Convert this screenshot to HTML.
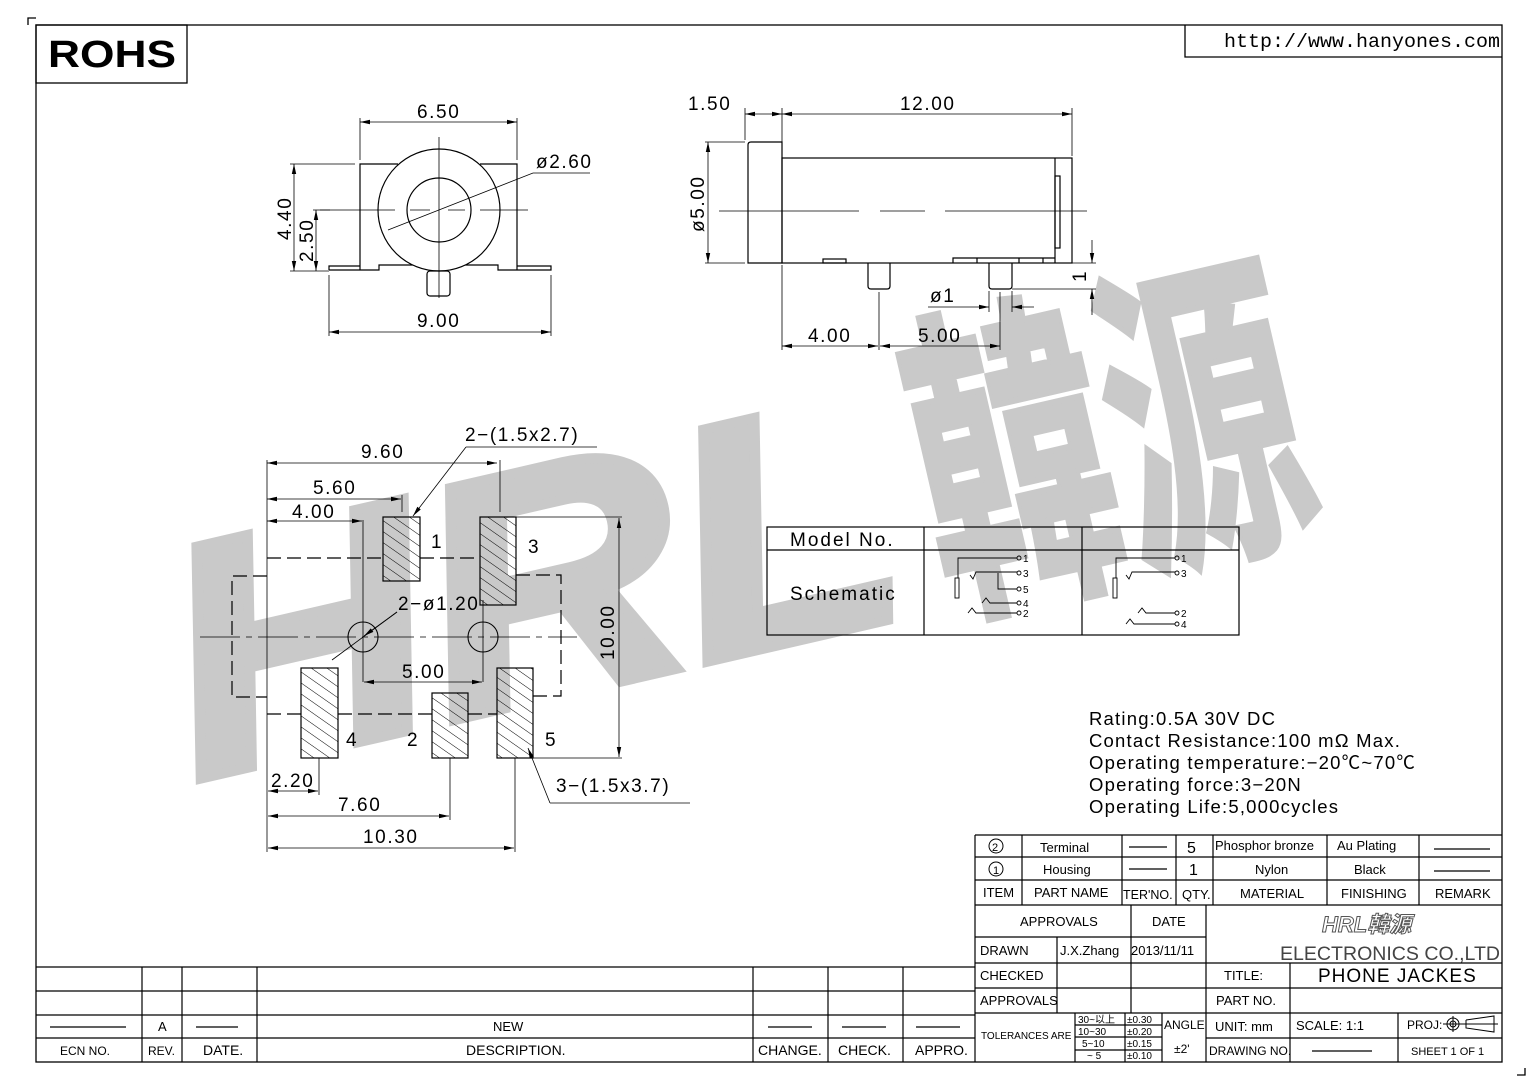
<!DOCTYPE html>
<html><head><meta charset="utf-8"><style>
html,body{margin:0;padding:0;background:#fff;}
svg{display:block;}
text{font-family:"Liberation Sans","Noto Sans CJK SC",sans-serif;fill:#000;}
.d{font-size:19px;letter-spacing:1.6px;}
</style></head><body>
<svg width="1538" height="1087" viewBox="0 0 1538 1087" xmlns="http://www.w3.org/2000/svg">
<defs>
<pattern id="h" patternUnits="userSpaceOnUse" width="9" height="9" patternTransform="rotate(-55)">
<line x1="0" y1="0" x2="0" y2="9" stroke="#000" stroke-width="1"/>
</pattern>
<marker id="a" markerWidth="10" markerHeight="6" refX="10" refY="3" orient="auto-start-reverse" markerUnits="userSpaceOnUse">
<path d="M0,0.8 L10,3 L0,5.2z" fill="#000"/>
</marker>
</defs>

<!-- watermark -->
<g transform="rotate(-13 195 780)">
<text x="195" y="780" font-size="330" font-weight="bold" font-style="italic" textLength="740" lengthAdjust="spacingAndGlyphs" style="fill:#c9c9c9;stroke:#c9c9c9;stroke-width:10;font-family:'Liberation Sans',sans-serif">HRL</text>
</g>
<g transform="rotate(-13 945 600)">
<text x="945" y="600" font-size="330" font-weight="bold" textLength="390" lengthAdjust="spacingAndGlyphs" style="fill:#c9c9c9;stroke:#c9c9c9;stroke-width:6;font-family:'Noto Sans CJK SC',sans-serif">韓源</text>
</g>

<g fill="none" stroke="#000" stroke-width="1.3">
<path d="M28,25 V18 H36"/>
<path d="M1525,1068 V1075 H1517"/>
<rect x="36" y="25" width="1466" height="1037"/>
<rect x="36" y="25" width="151" height="58"/>
<path d="M1185,25 V57 H1502"/>
</g>
<text x="48" y="67" textLength="128" lengthAdjust="spacingAndGlyphs" style="font-size:38px;font-weight:bold">ROHS</text>
<text x="1224" y="47" textLength="276" lengthAdjust="spacingAndGlyphs" style="font-size:19px;font-family:'Liberation Mono',monospace">http://www.hanyones.com</text>

<!-- FRONT VIEW -->
<g fill="none" stroke="#000" stroke-width="1.2">
<path d="M360,270 V164 H398 M480,164 H517 V270"/>
<path d="M329,270 H379 V265 H420 M458,265 H498 V270 H551 V266 H517 M329,270 V266 H360"/>
<circle cx="439" cy="210" r="61" fill="#fff"/>
<circle cx="439" cy="210" r="32"/>
<rect x="427" y="271" width="23" height="25" rx="3"/>
</g>
<g stroke="#000" stroke-width="0.8" fill="none">
<path d="M320,210 H395 M410,210 H430 M448,210 H465 M480,210 H528" />
<path d="M439,137 V298"/>
<path d="M360,160 V118 M517,160 V118"/>
<path d="M360,122 H517" marker-start="url(#a)" marker-end="url(#a)"/>
<path d="M388,230 L533,173 H590"/>
<path d="M290,164 H355 M313,210 H330"/>
<path d="M294,164 V271" marker-start="url(#a)" marker-end="url(#a)"/>
<path d="M316,210 V271" marker-start="url(#a)" marker-end="url(#a)"/>
<path d="M290,271 H329"/>
<path d="M329,275 V336 M551,275 V336"/>
<path d="M329,332 H551" marker-start="url(#a)" marker-end="url(#a)"/>
</g>
<text class="d" x="417" y="118">6.50</text>
<text class="d" x="536" y="168">ø2.60</text>
<text class="d" x="417" y="327">9.00</text>
<text class="d" transform="translate(291,240) rotate(-90)">4.40</text>
<text class="d" transform="translate(313,262) rotate(-90)">2.50</text>

<!-- SIDE VIEW -->
<g fill="none" stroke="#000" stroke-width="1.2">
<path d="M782,263 H748 V145 Q748,142 751,142 H782 Z"/>
<rect x="782" y="158" width="290" height="105"/>
<path d="M1055,158 V263"/>
<rect x="1055" y="176" width="5" height="72"/>
<rect x="823" y="259" width="23" height="4"/>
<path d="M953,263 V258 H1055 M977,258 V263 M1019,258 V263 M1043,258 V263"/>
<path d="M868,263 V286 Q868,289 871,289 H887 Q890,289 890,286 V263"/>
<path d="M989,263 V286 Q989,289 992,289 H1009 Q1012,289 1012,286 V263"/>
</g>
<g stroke="#000" stroke-width="0.8" fill="none">
<path d="M719,211 H859 M880,211 H925 M945,211 H1087"/>
<path d="M745,140 V108 M782,156 V108 M1072,156 V108"/>
<path d="M745,114 H782" marker-start="url(#a)" marker-end="url(#a)"/>
<path d="M782,114 H1072" marker-start="url(#a)" marker-end="url(#a)"/>
<path d="M705,142 H745 M705,263 H745"/>
<path d="M708,142 V263" marker-start="url(#a)" marker-end="url(#a)"/>
<path d="M1072,263 H1096 M1012,289 H1096"/>
<path d="M1092,240 V263" marker-end="url(#a)"/>
<path d="M1092,315 V289" marker-end="url(#a)"/>
<path d="M989,291 V312 M1012,291 V312"/>
<path d="M928,307 H989" marker-end="url(#a)"/>
<path d="M1034,307 H1012" marker-end="url(#a)"/>
<path d="M782,265 V350 M879,292 V350 M1000,292 V350"/>
<path d="M782,346 H878" marker-start="url(#a)" marker-end="url(#a)"/>
<path d="M880,346 H1000" marker-start="url(#a)" marker-end="url(#a)"/>
</g>
<text class="d" x="688" y="110">1.50</text>
<text class="d" x="900" y="110">12.00</text>
<text class="d" transform="translate(704,232) rotate(-90)">ø5.00</text>
<text class="d" transform="translate(1086,282) rotate(-90)">1</text>
<text class="d" x="930" y="302">ø1</text>
<text class="d" x="808" y="342">4.00</text>
<text class="d" x="918" y="342">5.00</text>

<!-- PCB VIEW -->
<g stroke="#000" stroke-width="1.2" fill="url(#h)">
<rect x="383" y="517" width="37" height="64"/>
<rect x="480" y="517" width="36" height="88"/>
<rect x="301" y="668" width="37" height="90"/>
<rect x="432" y="693" width="36" height="65"/>
<rect x="497" y="668" width="36" height="90"/>
</g>
<g stroke="#000" stroke-width="1.2" fill="none" stroke-dasharray="14,6">
<path d="M267,558 H383 M420,558 H480"/>
<path d="M516,575 H561 V696 H533"/>
<path d="M267,714 H301 M338,714 H432 M468,714 H497"/>
<path d="M267,576 H232 V697 H267"/>
</g>
<g stroke="#000" stroke-width="1.1" fill="none">
<circle cx="363" cy="637" r="15"/>
<circle cx="483" cy="637" r="15"/>
</g>
<g stroke="#000" stroke-width="0.8" fill="none">
<path d="M200,637 H577" stroke-dasharray="40,6,6,6"/>
<path d="M267,460 V852"/>
<path d="M500,460 V512"/>
<path d="M267,463 H497" marker-start="url(#a)" marker-end="url(#a)"/>
<path d="M402,495 V512"/>
<path d="M267,499 H401" marker-start="url(#a)" marker-end="url(#a)"/>
<path d="M363,520 V682 M483,600 V682"/>
<path d="M267,521 H362" marker-start="url(#a)" marker-end="url(#a)"/>
<path d="M364,682 H482" marker-start="url(#a)" marker-end="url(#a)"/>
<path d="M516,517 H622 M533,758 H622"/>
<path d="M619,518 V757" marker-start="url(#a)" marker-end="url(#a)"/>
<path d="M319,758 V795 M450,758 V820 M515,758 V852"/>
<path d="M268,791 H318" marker-start="url(#a)" marker-end="url(#a)"/>
<path d="M268,816 H449" marker-start="url(#a)" marker-end="url(#a)"/>
<path d="M268,848 H514" marker-start="url(#a)" marker-end="url(#a)"/>
<path d="M466,447 H597"/>
<path d="M466,447 L413,516" marker-end="url(#a)"/>
<path d="M332,660 L397,612"/>
<path d="M397,612 L364,636" marker-end="url(#a)"/>
<path d="M690,803 H550"/>
<path d="M550,803 L528,748" marker-end="url(#a)"/>
</g>
<text class="d" x="465" y="441">2−(1.5x2.7)</text>
<text class="d" x="361" y="458">9.60</text>
<text class="d" x="313" y="494">5.60</text>
<text class="d" x="292" y="518">4.00</text>
<text class="d" x="431" y="548">1</text>
<text class="d" x="528" y="553">3</text>
<text class="d" x="398" y="610">2−ø1.20</text>
<text class="d" x="402" y="678">5.00</text>
<text class="d" transform="translate(614,660) rotate(-90)">10.00</text>
<text class="d" x="346" y="746">4</text>
<text class="d" x="407" y="746">2</text>
<text class="d" x="545" y="746">5</text>
<text class="d" x="556" y="792">3−(1.5x3.7)</text>
<text class="d" x="271" y="787">2.20</text>
<text class="d" x="338" y="811">7.60</text>
<text class="d" x="363" y="843">10.30</text>

<!-- schematic table -->
<g stroke="#000" stroke-width="1.2" fill="none">
<rect x="767" y="527" width="472" height="108"/>
<path d="M767,550 H1239 M924,527 V635 M1082,527 V635"/>
</g>
<text x="790" y="546" style="font-size:19px;letter-spacing:2px">Model No.</text>
<text x="790" y="600" style="font-size:19px;letter-spacing:2px">Schematic</text>
<g stroke="#000" stroke-width="0.9" fill="none">
<path d="M958,578 V558 H1017"/><circle cx="1019" cy="558" r="2"/>
<rect x="955" y="578" width="4" height="20"/>
<path d="M970,575 L973,579 L976,572 H1017"/><circle cx="1019" cy="573" r="2"/>
<path d="M998,573 V589 H1017"/><circle cx="1019" cy="589" r="2"/>
<path d="M982,603 L986,598 L990,603 H1017"/><circle cx="1019" cy="603" r="2"/>
<path d="M968,613 L972,608 L976,613 H1017"/><circle cx="1019" cy="613" r="2"/>
<path d="M1116,578 V558 H1175"/><circle cx="1177" cy="558" r="2"/>
<rect x="1113" y="578" width="4" height="20"/>
<path d="M1126,575 L1129,579 L1132,572 H1175"/><circle cx="1177" cy="573" r="2"/>
<path d="M1138,613 L1142,608 L1146,613 H1175"/><circle cx="1177" cy="613" r="2"/>
<path d="M1126,624 L1130,619 L1134,624 H1175"/><circle cx="1177" cy="624" r="2"/>
</g>
<g style="font-size:10px">
<text x="1023" y="562">1</text><text x="1023" y="577">3</text><text x="1023" y="593">5</text><text x="1023" y="607">4</text><text x="1023" y="617">2</text>
<text x="1181" y="562">1</text><text x="1181" y="577">3</text><text x="1181" y="617">2</text><text x="1181" y="628">4</text>
</g>

<!-- specs -->
<g style="font-size:18.5px;letter-spacing:1.2px">
<text x="1089" y="725">Rating:0.5A  30V  DC</text>
<text x="1089" y="747">Contact  Resistance:100  mΩ  Max.</text>
<text x="1089" y="769">Operating  temperature:−20℃~70℃</text>
<text x="1089" y="791">Operating  force:3−20N</text>
<text x="1089" y="813">Operating  Life:5,000cycles</text>
</g>

<!-- revision table -->
<g stroke="#000" stroke-width="1.2" fill="none">
<path d="M36,967 H975 M36,991 H975 M36,1015 H975 M36,1038 H975"/>
<path d="M142,967 V1062 M182,967 V1062 M257,967 V1062 M753,967 V1062 M828,967 V1062 M903,967 V1062 M975,835 V1062"/>
<path d="M50,1027 H126 M196,1027 H238 M768,1027 H812 M842,1027 H886 M916,1027 H960"/>
</g>
<g style="font-size:13px">
<text x="158" y="1031">A</text>
<text x="493" y="1031">NEW</text>
<text x="60" y="1055" style="font-size:12px">ECN NO.</text>
<text x="148" y="1055" style="font-size:12px">REV.</text>
<text x="203" y="1055" style="font-size:14px">DATE.</text>
<text x="466" y="1055" style="font-size:14px">DESCRIPTION.</text>
<text x="758" y="1055" style="font-size:14px">CHANGE.</text>
<text x="838" y="1055" style="font-size:14px">CHECK.</text>
<text x="915" y="1055" style="font-size:14px">APPRO.</text>
</g>

<!-- title block -->
<g stroke="#000" stroke-width="1.2" fill="none">
<path d="M975,835 H1502 M975,857 H1502 M975,880 H1502 M975,905 H1502"/>
<path d="M1022,835 V905 M1122,835 V905 M1176,835 V905 M1213,835 V905 M1327,835 V905 M1419,835 V905"/>
<path d="M975,937 H1206 M975,963 H1502 M975,988 H1502 M975,1013 H1502 M1206,1038 H1502"/>
<path d="M1057,937 V1013 M1131,905 V1013 M1206,905 V1062 M1290,963 V1062 M1398,1013 V1062"/>
<path d="M1075,1013 V1062 M1125,1013 V1062 M1162,1013 V1062 M1075,1025 H1162 M1075,1037 H1162 M1075,1050 H1162"/>
<path d="M1129,847 H1167 M1129,869 H1167 M1434,849 H1490 M1434,871 H1490 M1312,1051 H1372"/>
</g>
<g style="font-size:13px">
<circle cx="996" cy="846" r="7" fill="none" stroke="#000"/><text x="992" y="851" style="font-size:11px">2</text>
<circle cx="996" cy="869" r="7" fill="none" stroke="#000"/><text x="993" y="874" style="font-size:11px">1</text>
<text x="1040" y="852">Terminal</text>
<text x="1043" y="874">Housing</text>
<text x="1187" y="853" style="font-size:16px">5</text>
<text x="1189" y="875" style="font-size:16px">1</text>
<text x="1215" y="850">Phosphor bronze</text>
<text x="1337" y="850">Au Plating</text>
<text x="1255" y="874">Nylon</text>
<text x="1354" y="874">Black</text>
<text x="983" y="897">ITEM</text>
<text x="1034" y="897">PART NAME</text>
<text x="1123" y="899" style="font-size:12.5px">TER'NO.</text>
<text x="1182" y="899">QTY.</text>
<text x="1240" y="898">MATERIAL</text>
<text x="1341" y="898">FINISHING</text>
<text x="1435" y="898">REMARK</text>
<text x="1020" y="926">APPROVALS</text>
<text x="1152" y="926">DATE</text>
<text x="980" y="955">DRAWN</text>
<text x="1060" y="955">J.X.Zhang</text>
<text x="1131" y="955">2013/11/11</text>
<text x="980" y="980">CHECKED</text>
<text x="980" y="1005">APPROVALS</text>
<text x="1224" y="980">TITLE:</text>
<text x="1216" y="1005">PART NO.</text>
<text x="981" y="1039" style="font-size:10px">TOLERANCES ARE</text>
<text x="1078" y="1023" style="font-size:10px">30~以上</text>
<text x="1078" y="1035" style="font-size:10px">10~30</text>
<text x="1082" y="1047" style="font-size:10px">5~10</text>
<text x="1087" y="1059" style="font-size:10px">~ 5</text>
<text x="1127" y="1023" style="font-size:10px">±0.30</text>
<text x="1127" y="1035" style="font-size:10px">±0.20</text>
<text x="1127" y="1047" style="font-size:10px">±0.15</text>
<text x="1127" y="1059" style="font-size:10px">±0.10</text>
<text x="1164" y="1029" style="font-size:12px">ANGLE</text>
<text x="1174" y="1053" style="font-size:12px">±2'</text>
<text x="1215" y="1031">UNIT:  mm</text>
<text x="1296" y="1030">SCALE:   1:1</text>
<text x="1407" y="1029" style="font-size:12px">PROJ:</text>
<text x="1209" y="1055" style="font-size:12px">DRAWING NO.</text>
<text x="1411" y="1055" style="font-size:11px">SHEET   1  OF  1</text>
<text x="1280" y="960" textLength="220" lengthAdjust="spacingAndGlyphs" style="font-size:19px;fill:#444">ELECTRONICS  CO.,LTD</text>
<text x="1318" y="982" style="font-size:19px;letter-spacing:1px">PHONE  JACKES</text>
<text x="1322" y="932" style="font-size:22px;font-weight:bold;font-style:italic;fill:#fff;stroke:#555;stroke-width:1">HRL韓源</text>
</g>
<g stroke="#000" stroke-width="1" fill="none">
<circle cx="1453" cy="1024" r="6"/><circle cx="1453" cy="1024" r="3"/>
<path d="M1443,1024 H1463 M1453,1016 V1032 M1466,1020 V1028 L1494,1032 V1016 L1466,1020 M1463,1024 H1498"/>
</g>
</svg>
</body></html>
